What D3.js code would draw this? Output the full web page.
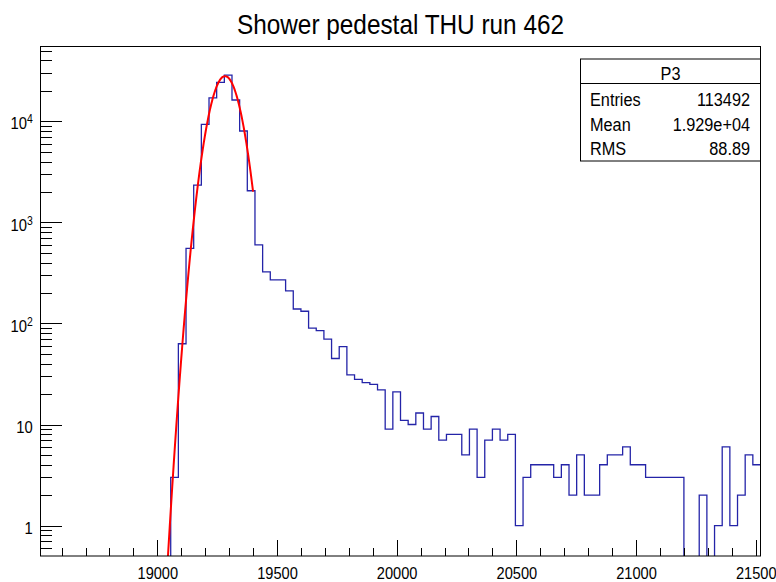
<!DOCTYPE html>
<html>
<head>
<meta charset="utf-8">
<script src="https://cdn.jsdelivr.net/npm/d3@7"></script>
<style>
  body { margin: 0; background: #fff; }
  text { font-family: "Liberation Sans", Arial, sans-serif; fill: #000; }
  .axis path, .axis line { stroke: #000; shape-rendering: crispEdges; }
</style>
</head>
<body>
<svg id="chart"></svg>
<script>
// histogram P3 : 94 bins of 32 counts wide, starting at 18512
var histMin = 18512;
var binWidth = 32;
var counts = [
  0, 0, 0, 0, 0, 0, 0, 0, 0, 0, 0, 0, 0, 0, 0, 0, 0,
  3, 63, 553, 2340, 9330, 17100, 24300, 28700, 16250, 8020, 2056, 600,
  324, 270, 270, 210, 139, 132, 90, 85, 70, 45, 59, 31, 28, 26, 25, 22,
  9, 21, 11, 10, 13, 9, 12, 7, 8, 8, 5, 9, 3, 7, 9, 7, 8, 1,
  3, 4, 4, 4, 3, 4, 2, 5, 2, 2, 4, 5, 5, 6, 4, 4, 3, 3, 3, 3, 3,
  0, 0, 2, 0, 1, 6, 1, 2, 5, 4
];

// gaus fit drawn in red
var fitConst = 28000;
var fitMean = 19283;
var fitSigma = 51;
var fitRange = [19000, 19400];

var xMajor = [19000, 19500, 20000, 20500, 21000, 21500];
var xMinor = [18600, 18700, 18800, 18900, 19100, 19200, 19300, 19400,
  19600, 19700, 19800, 19900, 20100, 20200, 20300, 20400, 20600, 20700,
  20800, 20900, 21100, 21200, 21300, 21400];
var yMajor = [1, 10, 100, 1000, 10000];
var yMajorLabels = [["1", ""], ["10", ""], ["10", "2"], ["10", "3"], ["10", "4"]];

var title = "Shower pedestal THU run 462";
var statsName = "P3";
var statsKeys = ["Entries", "Mean", "RMS"];
var statsValues = ["113492", "1.929e+04", "88.89"];

var w = 776;
var h = 582;
var frame = { left: 40.5, right: 760.5, top: 46.5, bottom: 556 };
var sx = 0.87; // root text is a bit narrower than liberation

var svg = d3.select("#chart")
  .attr("width", w)
  .attr("height", h);

var xScale = d3.scaleLinear()
  .domain([histMin, histMin + counts.length * binWidth])
  .range([frame.left, frame.right]);

var yScale = d3.scaleLog()
  .domain([0.5, 55000])
  .range([frame.bottom, frame.top]);

svg.append("clipPath")
  .attr("id", "plot")
  .append("rect")
  .attr("x", frame.left)
  .attr("y", frame.top)
  .attr("width", frame.right - frame.left)
  .attr("height", frame.bottom - frame.top);

//histogram outline, empty bins fall to the bottom of the frame
function yOf(v) {
  return v > 0 ? yScale(v) : frame.bottom + 2;
}
var histPath = d3.path();
counts.forEach(function(c, i) {
  var x0 = xScale(histMin + i * binWidth);
  var x1 = xScale(histMin + (i + 1) * binWidth);
  if (i == 0) histPath.moveTo(x0, yOf(c));
  else histPath.lineTo(x0, yOf(c));
  histPath.lineTo(x1, yOf(c));
});

svg.append("path")
  .attr("d", histPath.toString())
  .attr("clip-path", "url(#plot)")
  .attr("fill", "none")
  .attr("stroke", "#2424a8")
  .attr("stroke-width", 1.3);

//fit
var fitPts = d3.range(fitRange[0], fitRange[1] + 0.1, 2).map(function(x) {
  return [x, fitConst * Math.exp(-0.5 * Math.pow((x - fitMean) / fitSigma, 2))];
});
var fitLine = d3.line()
  .x(function(d) { return xScale(d[0]); })
  .y(function(d) { return yScale(Math.max(d[1], 0.3)); });

svg.append("path")
  .datum(fitPts)
  .attr("d", fitLine)
  .attr("clip-path", "url(#plot)")
  .attr("fill", "none")
  .attr("stroke", "#ff0000")
  .attr("stroke-width", 2);

//frame
svg.append("rect")
  .attr("x", frame.left)
  .attr("y", frame.top)
  .attr("width", frame.right - frame.left)
  .attr("height", frame.bottom - frame.top)
  .attr("fill", "none")
  .attr("stroke", "#000")
  .attr("stroke-width", 1);

//x axis, ticks pointing inwards
svg.append("g")
  .attr("class", "axis")
  .attr("transform", "translate(0," + frame.bottom + ")")
  .call(d3.axisBottom(xScale).tickValues(xMinor).tickSize(-8).tickFormat(""))
  .call(function(g) { g.select(".domain").remove(); });

var xAxis = svg.append("g")
  .attr("class", "axis")
  .attr("transform", "translate(0," + frame.bottom + ")")
  .call(d3.axisBottom(xScale).tickValues(xMajor).tickSize(-16).tickPadding(11).tickFormat(d3.format("d")));
xAxis.select(".domain").remove();
xAxis.selectAll("text")
  .attr("font-size", 16.8)
  .attr("font-family", null)
  .attr("transform", "scale(" + sx + ",1)");

//y axis, log
var yMinor = [];
[0.1, 1, 10, 100, 1000, 10000].forEach(function(dec) {
  [2, 3, 4, 5, 6, 7, 8, 9].forEach(function(m) {
    var v = dec * m;
    if (v > 0.5 && v < 55000) yMinor.push(v);
  });
});

svg.append("g")
  .attr("class", "axis")
  .attr("transform", "translate(" + frame.left + ",0)")
  .call(d3.axisLeft(yScale).tickValues(yMinor).tickSize(-11).tickFormat(""))
  .call(function(g) { g.select(".domain").remove(); });

var yAxis = svg.append("g")
  .attr("class", "axis")
  .attr("transform", "translate(" + frame.left + ",0)")
  .call(d3.axisLeft(yScale).tickValues(yMajor).tickSize(-21).tickPadding(9).tickFormat(""));
yAxis.select(".domain").remove();
yAxis.selectAll("text")
  .attr("font-size", 17)
  .attr("font-family", null)
  .attr("dy", "0.45em")
  .attr("transform", "scale(" + sx + ",1)")
  .each(function(d, i) {
    var t = d3.select(this);
    var lab = yMajorLabels[yMajor.indexOf(d)];
    t.append("tspan").text(lab[0]);
    if (lab[1]) {
      t.append("tspan")
        .attr("dy", "-0.5em")
        .attr("font-size", 12)
        .text(lab[1]);
    }
  });

//title
svg.append("text")
  .text(title)
  .attr("text-anchor", "middle")
  .attr("font-size", 28)
  .attr("transform", "translate(400.5,33.5) scale(" + sx + ",1)");

//stats box
var box = { x: 580.5, y: 59, w: 180, h: 102 };
svg.append("rect")
  .attr("x", box.x)
  .attr("y", box.y)
  .attr("width", box.w)
  .attr("height", box.h)
  .attr("fill", "#fff")
  .attr("stroke", "#000")
  .attr("stroke-width", 1);
svg.append("line")
  .attr("x1", box.x)
  .attr("x2", box.x + box.w)
  .attr("y1", 83.5)
  .attr("y2", 83.5)
  .attr("stroke", "#000");
svg.append("text")
  .text(statsName)
  .attr("text-anchor", "middle")
  .attr("font-size", 18.5)
  .attr("transform", "translate(" + (box.x + box.w / 2) + ",80) scale(0.88,1)");

statsKeys.forEach(function(k, i) {
  var yy = 106 + i * 24.5;
  svg.append("text")
    .text(k)
    .attr("font-size", 18.5)
    .attr("transform", "translate(590," + yy + ") scale(0.88,1)");
  svg.append("text")
    .text(statsValues[i])
    .attr("text-anchor", "end")
    .attr("font-size", 18.5)
    .attr("transform", "translate(750," + yy + ") scale(0.88,1)");
});
</script>
</body>
</html>
